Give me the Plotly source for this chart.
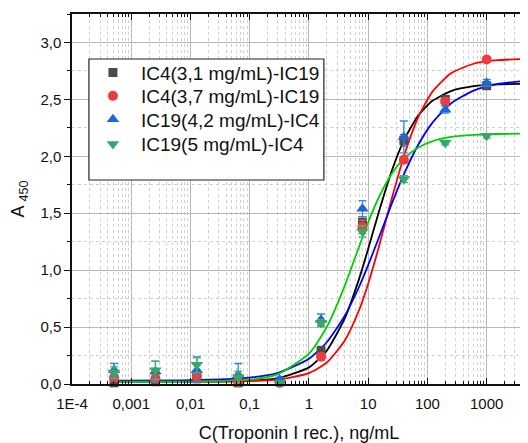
import plotly.graph_objects as go

# ---- data ----
conc = [0.000512, 0.00256, 0.0128, 0.064, 0.32, 1.6, 8, 40, 200, 1000, 5000]

ic4_31 = [0.01, 0.02, 0.07, 0.01, 0.02, 0.29, 1.42, 2.14, 2.50, 2.62, 2.76]
ic4_31_err = [0.03, 0.03, 0.05, 0.02, 0.01, 0.04, 0.05, 0.05, 0.03, 0.02, 0.02]

ic4_37 = [0.055, 0.047, 0.067, 0.015, 0.01, 0.24, 1.38, 1.97, 2.48, 2.85, 2.80]
ic4_37_err = [0.03, 0.03, 0.04, 0.03, 0.01, 0.03, 0.06, 0.03, 0.03, 0.02, 0.02]

ic19_42 = [0.12, 0.11, 0.12, 0.08, 0.04, 0.565, 1.54, 2.17, 2.41, 2.645, 2.65]
ic19_42_err = [0.06, 0.09, 0.11, 0.10, 0.02, 0.05, 0.07, 0.14, 0.03, 0.03, 0.03]

ic19_5 = [0.10, 0.12, 0.17, 0.06, 0.01, 0.535, 1.34, 1.80, 2.12, 2.18, 2.20]
ic19_5_err = [0.05, 0.08, 0.07, 0.05, 0.02, 0.03, 0.05, 0.03, 0.02, 0.02, 0.02]

# fitted curves
fit_x = [0.000512, 0.01, 0.1, 0.3, 1, 2, 4, 7, 10, 15, 25, 40, 70, 120, 250, 600, 1500, 5000]
fit_ic4_31 = [0.02, 0.02, 0.028, 0.051, 0.146, 0.293, 0.574, 0.921, 1.187, 1.504, 1.872, 2.14,
              2.358, 2.485, 2.573, 2.616, 2.632, 2.638]
fit_ic4_37 = [0.02, 0.02, 0.025, 0.038, 0.096, 0.189, 0.38, 0.648, 0.881, 1.197, 1.629, 1.999,
              2.344, 2.564, 2.729, 2.813, 2.844, 2.856]
fit_ic19_42 = [0.03, 0.033, 0.056, 0.098, 0.222, 0.367, 0.597, 0.852, 1.044, 1.28, 1.583, 1.841,
               2.101, 2.291, 2.464, 2.577, 2.634, 2.664]
fit_ic19_5 = [0.02, 0.021, 0.039, 0.087, 0.266, 0.501, 0.86, 1.206, 1.421, 1.636, 1.846, 1.979,
              2.078, 2.132, 2.17, 2.189, 2.196, 2.2]

names = ["IC4(3,1 mg/mL)-IC19", "IC4(3,7 mg/mL)-IC19", "IC19(4,2 mg/mL)-IC4", "IC19(5 mg/mL)-IC4"]

x_tickvals = [1e-4, 1e-3, 1e-2, 1e-1, 1, 10, 100, 1000]
x_ticktext = ["1E-4", "0,001", "0,01", "0,1", "1", "10", "100", "1000"]

FONT = "Liberation Sans, Arial, sans-serif"

fig = go.Figure()

curves = [
    (fit_ic4_31, "#000000"),
    (fit_ic4_37, "#ff0000"),
    (fit_ic19_42, "#0000ff"),
    (fit_ic19_5, "#00d000"),
]
for ys, col in curves:
    fig.add_trace(go.Scatter(x=fit_x, y=ys, mode="lines",
                             line=dict(color=col, width=1.8, shape="spline", smoothing=0.6),
                             showlegend=False, hoverinfo="skip"))

series = [
    (ic4_31, ic4_31_err, "square", "#4b4b4b", "#555555", 9),
    (ic4_37, ic4_37_err, "circle", "#ee3b3b", "#ee5555", 10),
    (ic19_42, ic19_42_err, "triangle-up", "#1f66d8", "#3a86e8", 11),
    (ic19_5, ic19_5_err, "triangle-down", "#35a865", "#45b575", 11),
]
legend_ids = ["legend", "legend2", "legend3", "legend4"]
for (ys, err, sym, col, ecol, sz), nm, lid in zip(series, names, legend_ids):
    fig.add_trace(go.Scatter(
        x=conc, y=ys, mode="markers", name=nm, legend=lid,
        marker=dict(symbol=sym, color=col, size=sz, line=dict(width=0)),
        error_y=dict(type="data", array=err, visible=True, color=ecol, thickness=1.3, width=4),
        cliponaxis=False,
    ))

minor_x = [m * 10 ** e for e in range(-4, 4) for m in range(2, 10)]

def leg(ytop):
    return dict(x=0.0285, y=ytop, xanchor="left", yanchor="top",
                bgcolor="rgba(0,0,0,0)", borderwidth=0,
                font=dict(family=FONT, size=19, color="#111111"),
                itemwidth=46)

# page body has an 8px margin: figure origin sits at (8, 8)
fig.update_layout(
    width=520, height=435,
    margin=dict(l=64, r=0, t=6, b=59),
    paper_bgcolor="white", plot_bgcolor="white",
    separators=",.",
    font=dict(family=FONT, size=15, color="#111111"),
    showlegend=True,
    legend=leg(0.8927),
    legend2=leg(0.8297),
    legend3=leg(0.7662),
    legend4=leg(0.6999),
    shapes=[dict(type="rect", xref="paper", yref="paper",
                 x0=0.0373, x1=0.5548, y0=0.5514, y1=0.8784,
                 line=dict(color="#222222", width=1.2), fillcolor="white", layer="above")],
)

fig.update_xaxes(
    type="log", range=[-4, 3.664],
    tickmode="array", tickvals=x_tickvals, ticktext=x_ticktext,
    ticks="inside", ticklen=6, tickwidth=1.2, tickcolor="#111111",
    ticklabelstandoff=5,
    showline=True, linecolor="#111111", linewidth=1.5, mirror="ticks",
    showgrid=True, gridcolor="#b8b8b8", gridwidth=1,
    minor=dict(tickmode="array", tickvals=minor_x, ticks="inside", ticklen=3, tickcolor="#111111",
               showgrid=True, gridcolor="#cfcfcf", griddash="dot", gridwidth=1),
    zeroline=False,
    title=dict(text="C(Troponin I rec.), ng/mL", font=dict(family=FONT, size=18, color="#111111"), standoff=16),
    tickfont=dict(family=FONT, size=15, color="#111111"),
)

fig.update_yaxes(
    range=[0, 3.25], tickmode="linear", tick0=0, dtick=0.5, tickformat=".1f",
    ticks="outside", ticklen=6, tickwidth=1.2, tickcolor="#111111",
    showline=True, linecolor="#111111", linewidth=1.5, mirror=True,
    showgrid=True, gridcolor="#b8b8b8", gridwidth=1,
    minor=dict(dtick=0.25, ticks="outside", ticklen=3, tickcolor="#111111",
               showgrid=True, gridcolor="#cfcfcf", griddash="dot", gridwidth=1),
    zeroline=False,
    title=dict(text="A <sub>450</sub>", font=dict(family=FONT, size=18, color="#111111"), standoff=12),
    tickfont=dict(family=FONT, size=15, color="#111111"),
)

fig.write_html("out.html")
